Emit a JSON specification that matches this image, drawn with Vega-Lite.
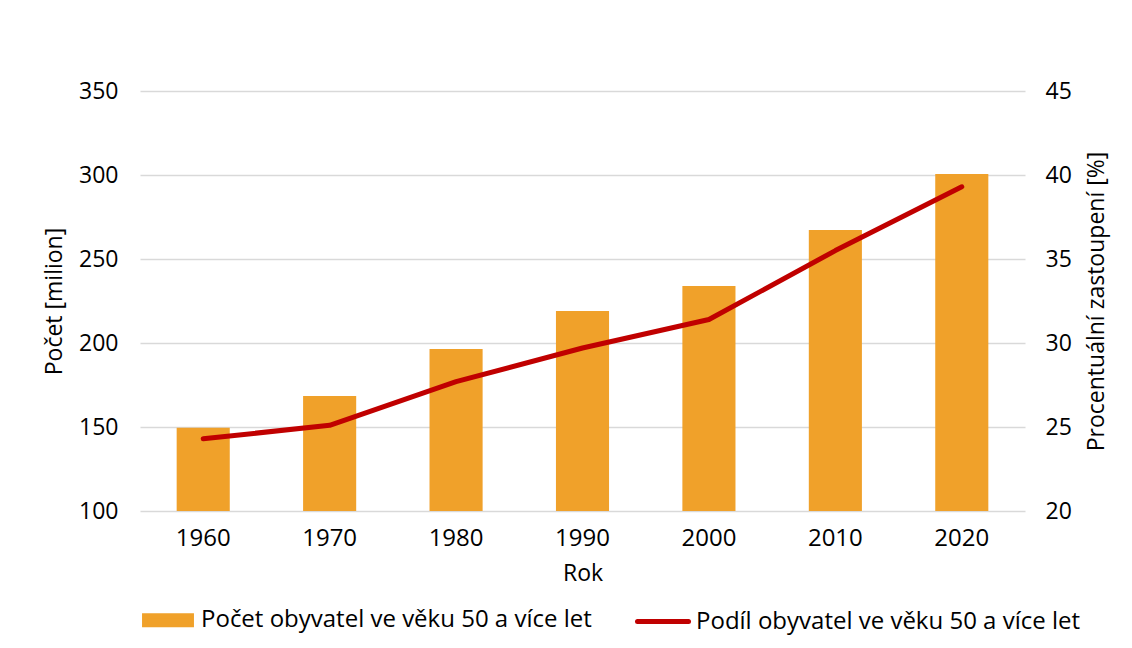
{
  "$schema": "https://vega.github.io/schema/vega-lite/v6.json",
  "autosize": "none",
  "width": 885,
  "height": 420,
  "padding": {"left": 140, "top": 91, "right": 107, "bottom": 137},
  "background": "white",
  "data": {
    "values": [
      {"rok": "1960", "pocet": 149.5, "podil": 24.3},
      {"rok": "1970", "pocet": 168.5, "podil": 25.1},
      {"rok": "1980", "pocet": 196.5, "podil": 27.7},
      {"rok": "1990", "pocet": 219, "podil": 29.7},
      {"rok": "2000", "pocet": 234, "podil": 31.4},
      {"rok": "2010", "pocet": 267.2, "podil": 35.5},
      {"rok": "2020", "pocet": 300.6, "podil": 39.3}
    ]
  },
  "encoding": {
    "x": {
      "field": "rok",
      "type": "ordinal",
      "scale": {"paddingInner": 0.58, "paddingOuter": 0.29},
      "axis": {"title": "Rok", "labelAngle": 0, "labelFontSize": 24, "domain": false, "ticks": false, "labelPadding": 15, "titlePadding": 12}
    }
  },
  "layer": [
    {
      "mark": {"type": "bar", "color": "#F0A12A"},
      "encoding": {
        "y": {
          "field": "pocet",
          "type": "quantitative",
          "scale": {"domain": [100, 350], "zero": false, "nice": false},
          "axis": {"title": "Počet [milion]", "values": [100, 150, 200, 250, 300, 350], "grid": true, "domain": false, "ticks": false, "labelPadding": 22, "titlePadding": 12}
        },
        "y2": {"datum": 100},
        "color": {
          "datum": "Počet obyvatel ve věku 50 a více let",
          "scale": {
            "domain": ["Počet obyvatel ve věku 50 a více let", "Podíl obyvatel ve věku 50 a více let"],
            "range": ["#F0A12A", "#C00000"]
          },
          "legend": {
            "orient": "bottom",
            "direction": "horizontal",
            "title": null,
            "encode": {
              "symbols": {
                "update": {
                  "shape": {"signal": "datum.value === 'Podíl obyvatel ve věku 50 a více let' ? 'M-1,0H1' : 'M-0.92,-0.176H0.92V0.176H-0.92Z'"},
                  "stroke": {"signal": "datum.value === 'Podíl obyvatel ve věku 50 a více let' ? '#C00000' : '#F0A12A'"},
                  "strokeWidth": {"value": 5},
                  "strokeCap": {"value": "round"}
                }
              }
            }
          }
        }
      }
    },
    {
      "mark": {"type": "line", "strokeWidth": 5, "strokeCap": "round", "strokeJoin": "round"},
      "encoding": {
        "y": {
          "field": "podil",
          "type": "quantitative",
          "scale": {"domain": [20, 45], "zero": false, "nice": false},
          "axis": {"title": "Procentuální zastoupení [%]", "orient": "right", "titleAngle": 270, "titleBaseline": "top", "values": [20, 25, 30, 35, 40, 45], "grid": false, "domain": false, "ticks": false, "labelPadding": 20, "titlePadding": 14}
        },
        "color": {"datum": "Podíl obyvatel ve věku 50 a více let"}
      }
    }
  ],
  "resolve": {"scale": {"y": "independent"}},
  "config": {
    "font": "Open Sans",
    "view": {"stroke": null},
    "axis": {
      "labelFontSize": 23,
      "labelColor": "#000000",
      "labelFont": "Open Sans",
      "titleFontSize": 23,
      "titleFontWeight": "normal",
      "titleColor": "#000000",
      "titleFont": "Open Sans",
      "gridColor": "#d9d9d9",
      "gridWidth": 1.5
    },
    "legend": {
      "labelFontSize": 24,
      "labelColor": "#000000",
      "labelFont": "Open Sans",
      "labelLimit": 600,
      "symbolSize": 2601,
      "symbolStrokeWidth": 5,
      "columnPadding": 35,
      "labelOffset": 5,
      "offset": 7,
      "symbolOpacity": 1
    }
  }
}
